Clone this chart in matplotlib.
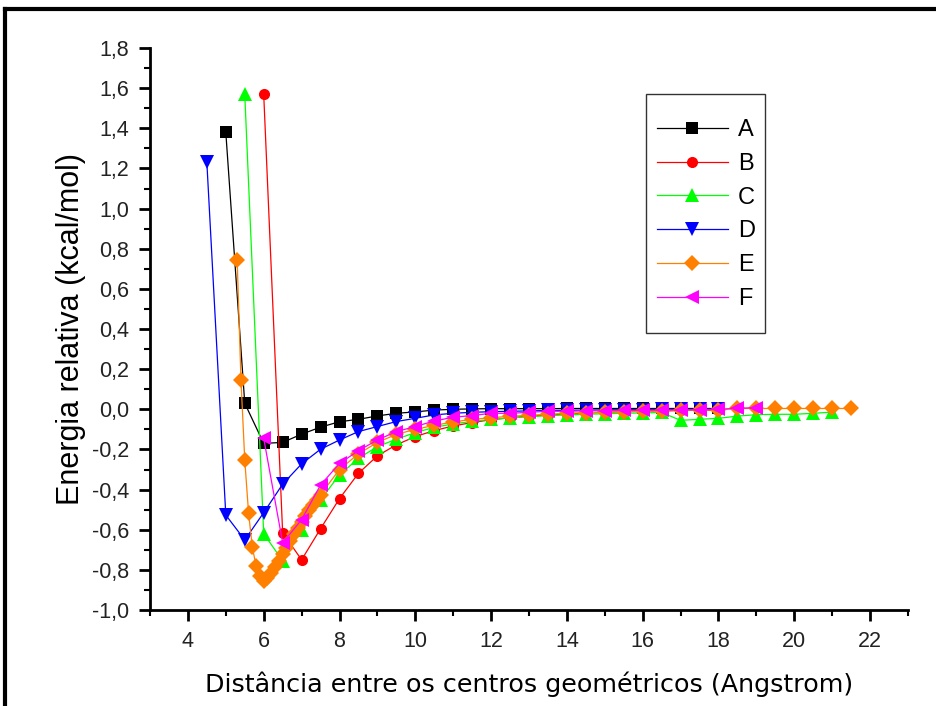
import numpy as np
import matplotlib.pyplot as plt
from matplotlib.lines import Line2D
from matplotlib.patches import Rectangle
from matplotlib.ticker import MultipleLocator, FuncFormatter

# distancia (Angstrom) / energia relativa (kcal/mol)
xA = [5.0, 5.5, 6.0, 6.5, 7.0, 7.5, 8.0, 8.5, 9.0, 9.5, 10.0, 10.5, 11.0, 11.5, 12.0,
      12.5, 13.0, 13.5, 14.0, 14.5, 15.0, 15.5, 16.0, 16.5, 17.0, 17.5, 18.0]
yA = [1.38, 0.03, -0.17, -0.165, -0.124, -0.089, -0.062, -0.05, -0.033, -0.02, -0.013, -0.004, 0.0, 0.002, 0.003,
      0.003, 0.003, 0.003, 0.004, 0.004, 0.004, 0.004, 0.004, 0.004, 0.004, 0.004, 0.004]

xB = [6.0, 6.5, 7.0, 7.5, 8.0, 8.5, 9.0, 9.5, 10.0, 10.5, 11.0, 11.5, 12.0, 12.5, 13.0,
      13.5, 14.0, 14.5, 15.0, 15.5, 16.0, 16.5, 17.0, 17.5, 18.0]
yB = [1.57, -0.615, -0.75, -0.595, -0.445, -0.319, -0.232, -0.177, -0.136, -0.106, -0.083, -0.066, -0.052, -0.042, -0.034,
      -0.028, -0.023, -0.019, -0.015, -0.012, -0.01, -0.008, -0.006, -0.005, -0.004]

xC = [5.5, 6.0, 6.5, 7.0, 7.5, 8.0, 8.5, 9.0, 9.5, 10.0, 10.5, 11.0, 11.5, 12.0, 12.5,
      13.0, 13.5, 14.0, 14.5, 15.0, 15.5, 16.0, 16.5, 17.0, 17.5, 18.0, 18.5, 19.0, 19.5,
      20.0, 20.5, 21.0]
yC = [1.57, -0.62, -0.755, -0.6, -0.45, -0.327, -0.244, -0.186, -0.149, -0.116, -0.09, -0.073, -0.06, -0.05, -0.043,
      -0.037, -0.032, -0.028, -0.025, -0.022, -0.02, -0.018, -0.016, -0.055, -0.05, -0.045, -0.034, -0.027, -0.025,
      -0.025, -0.02, -0.014]

xD = [4.5, 5.0, 5.5, 6.0, 6.5, 7.0, 7.5, 8.0, 8.5, 9.0, 9.5, 10.0, 10.5, 11.0, 11.5,
      12.0, 12.5, 13.0, 13.5, 14.0, 14.5, 15.0, 15.5, 16.0, 16.5, 17.0, 17.5, 18.0]
yD = [1.23, -0.527, -0.651, -0.515, -0.373, -0.272, -0.199, -0.153, -0.111, -0.086, -0.061, -0.045, -0.028, -0.02, -0.015,
      -0.012, -0.01, -0.008, -0.006, -0.005, -0.004, -0.003, -0.002, -0.002, -0.001, -0.001, 0.0, 0.0]

xE = [5.3, 5.4, 5.5, 5.6, 5.7, 5.8, 5.9, 6.0, 6.1, 6.2, 6.3, 6.4, 6.5, 6.6, 6.7,
      6.8, 6.9, 7.0, 7.1, 7.2, 7.3, 7.4, 7.5, 8.0, 8.5, 9.0, 9.5, 10.0, 10.5, 11.0,
      11.5, 12.0, 12.5, 13.0, 13.5, 14.0, 14.5, 15.0, 15.5, 16.0, 16.5, 17.0, 17.5, 18.0,
      18.5, 19.0, 19.5, 20.0, 20.5, 21.0, 21.5]
yE = [0.743, 0.147, -0.252, -0.515, -0.688, -0.78, -0.83, -0.855, -0.84, -0.815, -0.785, -0.755, -0.72, -0.69, -0.655,
      -0.62, -0.59, -0.56, -0.53, -0.5, -0.475, -0.45, -0.425, -0.3, -0.222, -0.165, -0.125, -0.1, -0.08, -0.063,
      -0.05, -0.042, -0.035, -0.03, -0.025, -0.02, -0.017, -0.014, -0.012, -0.01, -0.008, -0.006, -0.004, -0.002,
      0.004, 0.004, 0.004, 0.004, 0.004, 0.004, 0.004]

xF = [6.0, 6.5, 7.0, 7.5, 8.0, 8.5, 9.0, 9.5, 10.0, 10.5, 11.0, 11.5, 12.0, 12.5, 13.0,
      13.5, 14.0, 14.5, 15.0, 15.5, 16.0, 16.5, 17.0, 17.5, 18.0, 18.5, 19.0]
yF = [-0.144, -0.665, -0.55, -0.377, -0.27, -0.206, -0.153, -0.111, -0.086, -0.058, -0.04, -0.031, -0.02, -0.02, -0.015,
      -0.01, -0.01, -0.008, -0.007, -0.006, -0.005, -0.004, -0.003, -0.002, 0.0, 0.005, 0.008]

series = [
    ('A', xA, yA, 'black', 's', 8.5),
    ('B', xB, yB, '#ff0000', 'o', 8.0),
    ('C', xC, yC, '#00ff00', '^', 10.5),
    ('D', xD, yD, '#0000ff', 'v', 10.5),
    ('E', xE, yE, '#ff8000', 'D', 7.8),
    ('F', xF, yF, '#ff00ff', '<', 10.5),
]

fig = plt.figure(figsize=(9.36, 7.06), dpi=100)
ax = fig.add_axes([150/936, 1 - 610/706, (908 - 150)/936, (610 - 48)/706])

for name, xs, ys, c, m, ms in series:
    ax.plot(xs, ys, color=c, lw=0.9, marker=m, markersize=ms,
            markeredgewidth=0, label=name, clip_on=False)

ax.set_xlim(3, 23)
ax.set_ylim(-1.0, 1.8)
ax.xaxis.set_major_locator(MultipleLocator(2))
ax.xaxis.set_minor_locator(MultipleLocator(1))
ax.yaxis.set_major_locator(MultipleLocator(0.2))
ax.yaxis.set_minor_locator(MultipleLocator(0.1))
ax.yaxis.set_major_formatter(FuncFormatter(lambda v, p: ('%.1f' % v).replace('.', ',').replace('-0,0', '0,0')))

for s in ['top', 'right']:
    ax.spines[s].set_visible(False)
for s in ['left', 'bottom']:
    ax.spines[s].set_linewidth(2.0)

ax.tick_params(which='major', direction='out', length=8, width=2, labelsize=15.5,
               labelcolor='#222222', pad=7)
ax.tick_params(which='minor', direction='out', length=4, width=1.5)
for lab in ax.get_xticklabels() + ax.get_yticklabels():
    lab.set_family('Liberation Sans')

ax.set_xlabel('Distância entre os centros geométricos (Angstrom)', fontsize=18.3,
              family='DejaVu Sans', labelpad=14)
ax.set_ylabel('Energia relativa (kcal/mol)', fontsize=22, family='Liberation Sans', labelpad=4)

# legenda: caixa desenhada a parte
fig.add_artist(Rectangle((646/936, 1 - 333/706), (765 - 646)/936, (333 - 94)/706,
                         transform=fig.transFigure, fill=False, edgecolor='#333333', lw=1.0))
leg = ax.legend(loc='upper left', bbox_to_anchor=(657/936, 1 - 119/706),
                bbox_transform=fig.transFigure, fontsize=17, frameon=False,
                handlelength=3.0, labelspacing=0.5, borderpad=0,
                handletextpad=0.42, borderaxespad=0)
for t in leg.get_texts():
    t.set_family('Liberation Sans')

# moldura externa
fig.add_artist(Line2D([5/936, 1.0], [1 - 9/706, 1 - 9/706], color='black', lw=3,
                      transform=fig.transFigure))
fig.add_artist(Line2D([5/936, 5/936], [0.0, 1 - 9/706], color='black', lw=3,
                      transform=fig.transFigure))

fig.savefig('out.png', dpi=100)
